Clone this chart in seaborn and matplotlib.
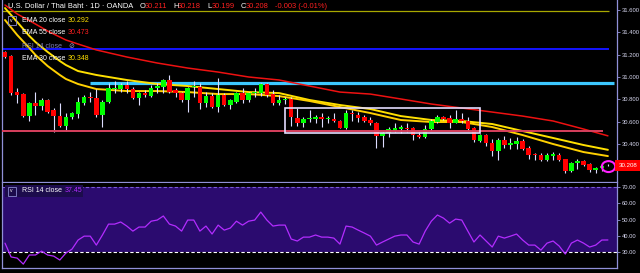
import numpy as np
import pandas as pd
import matplotlib
matplotlib.use("Agg")
import matplotlib.pyplot as plt
import matplotlib.transforms as mtransforms
from matplotlib.patches import Ellipse, Rectangle
import seaborn as sns

# ---------------- data ----------------
opens = [31.22, 31.19, 30.87, 30.85, 30.65, 30.77, 30.74, 30.79, 30.70, 30.65,
         30.56, 30.64, 30.67, 30.77, 30.822, 30.81, 30.66, 30.78, 30.89, 30.89,
         30.93, 30.89, 30.81, 30.86, 30.83, 30.90, 30.91, 30.97, 30.88, 30.86,
         30.79, 30.91, 30.91, 30.77, 30.83, 30.73, 30.84, 30.75, 30.78, 30.86,
         30.79, 30.86, 30.86, 30.94, 30.85, 30.77, 30.79, 30.80, 30.63, 30.59,
         30.62, 30.62, 30.64, 30.627, 30.62, 30.61, 30.54, 30.68, 30.66, 30.64,
         30.615, 30.59, 30.47, 30.50, 30.52, 30.535, 30.54, 30.54, 30.48, 30.46,
         30.53, 30.60, 30.64, 30.63, 30.59, 30.62, 30.61, 30.54, 30.43, 30.48,
         30.41, 30.34, 30.44, 30.39, 30.40, 30.43, 30.364, 30.31, 30.30, 30.26,
         30.29, 30.30, 30.265, 30.16, 30.23, 30.25, 30.22, 30.167, 30.185, 30.211]
highs = [31.23, 31.20, 30.90, 30.86, 30.78, 30.87, 30.81, 30.80, 30.72, 30.77,
         30.68, 30.69, 30.82, 30.84, 30.87, 30.89, 30.79, 30.95, 30.96, 30.95,
         30.96, 30.91, 30.87, 30.88, 30.93, 30.95, 30.98, 31.02, 30.90, 30.87,
         30.91, 30.96, 30.95, 30.87, 30.86, 30.99, 30.86, 30.80, 30.87, 30.90,
         30.87, 30.90, 30.95, 30.95, 30.88, 30.84, 30.82, 30.82, 30.72, 30.64,
         30.70, 30.66, 30.68, 30.65, 30.68, 30.615, 30.70, 30.70, 30.69, 30.66,
         30.64, 30.60, 30.51, 30.55, 30.59, 30.57, 30.59, 30.55, 30.51, 30.57,
         30.62, 30.66, 30.65, 30.66, 30.70, 30.68, 30.64, 30.55, 30.49, 30.49,
         30.445, 30.45, 30.47, 30.45, 30.46, 30.445, 30.38, 30.32, 30.32, 30.32,
         30.33, 30.32, 30.27, 30.24, 30.27, 30.26, 30.23, 30.19, 30.23, 30.218]
lows = [31.17, 30.84, 30.77, 30.64, 30.61, 30.66, 30.70, 30.68, 30.51, 30.55,
        30.52, 30.62, 30.63, 30.75, 30.78, 30.64, 30.55, 30.77, 30.86, 30.87,
        30.86, 30.80, 30.75, 30.82, 30.82, 30.86, 30.86, 30.86, 30.82, 30.78,
        30.69, 30.82, 30.71, 30.73, 30.72, 30.69, 30.74, 30.71, 30.77, 30.77,
        30.78, 30.82, 30.83, 30.82, 30.75, 30.75, 30.76, 30.56, 30.56, 30.55,
        30.60, 30.59, 30.55, 30.59, 30.60, 30.54, 30.53, 30.61, 30.60, 30.60,
        30.57, 30.36, 30.37, 30.46, 30.51, 30.50, 30.51, 30.44, 30.455, 30.45,
        30.52, 30.59, 30.615, 30.54, 30.585, 30.59, 30.52, 30.42, 30.42, 30.38,
        30.29, 30.26, 30.36, 30.355, 30.355, 30.35, 30.27, 30.26, 30.25, 30.25,
        30.26, 30.25, 30.14, 30.15, 30.18, 30.20, 30.15, 30.14, 30.16, 30.199]
closes = [31.18, 30.86, 30.84, 30.65, 30.77, 30.74, 30.79, 30.69, 30.65, 30.56,
          30.64, 30.68, 30.78, 30.82, 30.815, 30.66, 30.78, 30.90, 30.90, 30.93,
          30.89, 30.81, 30.86, 30.84, 30.90, 30.92, 30.97, 30.87, 30.86, 30.79,
          30.90, 30.92, 30.77, 30.83, 30.73, 30.84, 30.75, 30.79, 30.86, 30.79,
          30.86, 30.87, 30.94, 30.84, 30.77, 30.79, 30.80, 30.64, 30.59, 30.62,
          30.63, 30.64, 30.62, 30.632, 30.61, 30.54, 30.68, 30.67, 30.63, 30.61,
          30.59, 30.47, 30.50, 30.53, 30.54, 30.55, 30.535, 30.48, 30.46, 30.53,
          30.61, 30.64, 30.62, 30.59, 30.62, 30.61, 30.53, 30.44, 30.48, 30.41,
          30.34, 30.44, 30.39, 30.41, 30.43, 30.355, 30.30, 30.30, 30.26, 30.30,
          30.31, 30.26, 30.16, 30.23, 30.25, 30.21, 30.17, 30.185, 30.20, 30.208]

ema_idx = [0, 2, 4, 5, 7, 9, 10, 12, 15, 20, 25, 30, 35, 40, 45, 50, 55, 60,
           65, 70, 75, 80, 85, 90, 95, 99]
ema20 = [31.51, 31.376, 31.259, 31.197, 31.098, 31.018, 30.982, 30.937, 30.892,
         30.874, 30.874, 30.865, 30.847, 30.847, 30.829, 30.785, 30.731, 30.677,
         30.615, 30.597, 30.597, 30.552, 30.480, 30.400, 30.328, 30.292]
ema30 = [31.617, 31.492, 31.367, 31.313, 31.224, 31.143, 31.107, 31.053, 31.018,
         30.973, 30.937, 30.919, 30.892, 30.865, 30.856, 30.794, 30.749, 30.713,
         30.650, 30.615, 30.606, 30.579, 30.516, 30.454, 30.391, 30.348]
ema55_idx = [0, 2, 5, 7, 10, 12, 15, 20, 25, 30, 35, 40, 45, 50, 55, 60, 65,
             70, 75, 80, 85, 90, 95, 99]
ema55 = [31.644, 31.564, 31.474, 31.411, 31.331, 31.295, 31.242, 31.179, 31.125,
         31.080, 31.044, 31.000, 30.973, 30.919, 30.865, 30.847, 30.803, 30.758,
         30.722, 30.686, 30.650, 30.606, 30.534, 30.473]

rsi = [35.5, 27.0, 26.3, 22.6, 28.2, 28.2, 30.6, 28.2, 27.5, 25.1,
       29.4, 31.8, 37.4, 39.8, 39.8, 34.3, 40.5, 47.2, 47.2, 48.5,
       46.0, 42.9, 45.4, 45.4, 49.0, 49.7, 52.2, 47.2, 46.0, 42.9,
       49.7, 49.7, 42.9, 46.0, 41.1, 46.6, 43.5, 44.8, 49.0, 46.6,
       49.0, 49.7, 54.6, 49.7, 46.0, 46.6, 46.6, 38.0, 36.8, 39.2,
       39.2, 40.5, 39.2, 39.2, 38.6, 34.9, 46.0, 45.4, 43.5, 41.7,
       39.8, 34.3, 36.2, 38.0, 39.8, 40.5, 40.5, 36.2, 34.9, 42.9,
       49.0, 52.8, 50.9, 47.8, 50.3, 49.7, 42.9, 36.2, 40.5, 36.8,
       33.1, 39.8, 38.6, 39.8, 41.1, 37.4, 34.3, 34.3, 31.2, 35.5,
       36.8, 33.7, 28.8, 35.5, 37.4, 35.5, 33.1, 34.3, 37.4, 37.45]

price_ticks = [31.6, 31.4, 31.2, 31.0, 30.8, 30.6, 30.4]
rsi_ticks = [70, 60, 50, 40, 30]
time_ticks = [6.4, 14.8, 25.3, 36.6, 43.2, 51.4, 60.4, 67.8, 73.6, 79.1, 97.0]
levels = {"top": 31.59, "blue": 31.25, "cyan": 30.95, "pink": 30.52}
box_range = [46.0, 78.0, 30.50, 30.72]
last_price = 30.208
title = "U.S. Dollar / Thai Baht · 1D · OANDA"
ohlc_text = [("O", "30.211"), ("H", "30.218"), ("L", "30.199"), ("C", "30.208"),
             ("", "-0.003 (-0.01%)")]

# ---------------- style ----------------
sns.set_theme(style="dark")
plt.rcParams["font.family"] = ["Liberation Sans", "DejaVu Sans"]
LAV = "#9090d8"
TXT = "#d8d8f0"

df = pd.DataFrame({"o": opens, "h": highs, "l": lows, "c": closes})
df["i"] = np.arange(len(df))
up = df["c"] >= df["o"]
body_col = np.where(up, "#00ff00", "#ff0000")
body_bot = np.minimum(df["o"], df["c"])
body_h = np.maximum((df["c"] - df["o"]).abs(), 0.008)

W, H = 640, 273
fig = plt.figure(figsize=(6.4, 2.73), dpi=100, facecolor="black")
x0, x1 = 2, 617
ax = fig.add_axes([x0 / W, 1 - 182 / H, (x1 - x0) / W, 182 / H])
axr = fig.add_axes([x0 / W, 1 - 268 / H, (x1 - x0) / W, 85 / H])
xl = ((x0 - 5) / 6.09, (x1 - 5) / 6.09)

for a in (ax, axr):
    a.set_facecolor("black")
    a.grid(False)
    a.set_xlim(*xl)
    for s in a.spines.values():
        s.set_color(LAV)
        s.set_linewidth(0.9)
    a.spines["top"].set_visible(False)
    a.yaxis.tick_right()
    a.tick_params(axis="y", colors=LAV, labelcolor=TXT, labelsize=4.2,
                  length=2, width=0.6, pad=1.2)

ax.set_ylim(30.060, 31.689)
axr.set_ylim(20.2, 72.5)

# horizontal drawings
ax.hlines(levels["top"], xl[0], 99.2, color="#a8a800", lw=0.9, zorder=2)
ax.hlines(levels["blue"], xl[0], 99.2, color="#1414ff", lw=1.4, zorder=2)
ax.hlines(levels["cyan"], 14.0, 100.0, color="#3cc8ff", lw=2.3, zorder=2)
ax.hlines(levels["pink"], xl[0], 98.2, color="#d8405e", lw=1.4, zorder=5)

# EMAs
sns.lineplot(x=ema55_idx, y=ema55, ax=ax, color="#ee1111", lw=1.1, zorder=3)
sns.lineplot(x=ema_idx, y=ema30, ax=ax, color="#ffe000", lw=1.4, zorder=3)
sns.lineplot(x=ema_idx, y=ema20, ax=ax, color="#ffd000", lw=1.4, zorder=3)

# candles
ax.vlines(df["i"], df["l"], df["h"], color="#dcdcff", lw=0.8, zorder=4)
ax.bar(df["i"], body_h, bottom=body_bot, width=0.74, color=body_col,
       linewidth=0, zorder=4.5)

# box & ellipse
ax.add_patch(Rectangle((box_range[0], box_range[2]), box_range[1] - box_range[0],
                       box_range[3] - box_range[2], fill=False, ec="#e4dcff",
                       lw=1.2, zorder=6))
ax.add_patch(Ellipse((99.1, 30.198), 2.2, 0.098, fill=False, ec="#ff20ff",
                     lw=1.5, zorder=6))

ax.set_xticks([])
ax.set_yticks(price_ticks)
ax.set_yticklabels([f"{t:.3f}" for t in price_ticks])
ax.set_xlabel("")
ax.set_ylabel("")

trans = mtransforms.blended_transform_factory(ax.transAxes, ax.transData)
ax.text(1.003, last_price, f"{last_price:.3f}", transform=trans, ha="left",
        va="center", fontsize=4.4, color="white", zorder=10, clip_on=False,
        bbox=dict(boxstyle="square,pad=0.55", fc="#ff0000", ec="none"))

# RSI pane
axr.axhspan(30, 70, color="#2b0b6f", zorder=0, lw=0)
axr.axhline(70, color="#7a5ad8", ls=(0, (3, 2)), lw=0.8, zorder=1)
axr.axhline(30, color="white", ls=(0, (3, 2)), lw=0.8, zorder=1)
sns.lineplot(x=df["i"], y=rsi, ax=axr, color="#b32cff", lw=0.9, zorder=3)
axr.set_yticks(rsi_ticks)
axr.set_yticklabels([f"{t:.2f}" for t in rsi_ticks])
axr.set_xticks(time_ticks)
axr.set_xticklabels([])
axr.tick_params(axis="x", colors=LAV, length=3, width=0.6, direction="out")
axr.set_xlabel("")
axr.set_ylabel("")


# ---------------- header & legends ----------------
def ftext(px, py, s, color, size=5.0, **kw):
    return fig.text(px / W, 1 - py / H, s, color=color, fontsize=size,
                    va="center", ha="left", **kw)


def chevron(px, py):
    fig.patches.append(Rectangle((px / W, 1 - (py + 4.5) / H), 8 / W, 9 / H,
                                 transform=fig.transFigure, fill=False,
                                 ec="#8a8ad0", lw=0.6, zorder=20))
    ftext(px + 2, py, "v", "white", size=3.6, zorder=21)


ftext(8, 7, title, "white", size=5.4, zorder=20)
px = 140
for lab, val in ohlc_text:
    if lab:
        ftext(px, 7, lab, "white", size=5.4, zorder=20)
        px += 4.5
    ftext(px, 7, val, "#ff2020", size=5.4, zorder=20)
    px += 4.2 * len(val) + 4

chevron(8, 20)
rows = [(20, "EMA 20 close", "30.292", "#ffe000", "white"),
        (33, "EMA 55 close", "30.473", "#ff2020", "white"),
        (46, "RSI 14 close", "⊘", "#a0a0d0", "#8080b8"),
        (59, "EMA 30 close", "30.348", "#ffe000", "white")]
for py, lab, val, vcol, lcol in rows:
    ftext(22, py, lab, lcol, size=5.0, zorder=20)
    ftext(68, py, val, vcol, size=5.0, zorder=20)

fig.patches.append(Rectangle((5 / W, 1 - 197 / H), 78 / W, 12 / H,
                             transform=fig.transFigure, fc="#1c0c4c",
                             ec="none", zorder=19))
chevron(8, 191)
ftext(22, 191, "RSI 14 close", "white", size=5.0, zorder=20)
ftext(65, 191, "37.45", "#b32cff", size=5.0, zorder=20)

fig.savefig("out.png", dpi=100, facecolor="black")
